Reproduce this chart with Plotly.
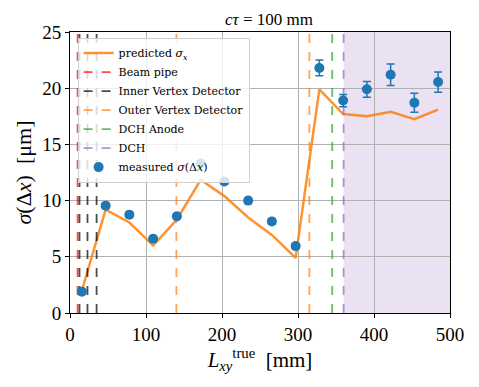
import plotly.graph_objects as go

# bin centres of L_xy^true [mm]
l_xy = [15.6, 46.9, 78.1, 109.4, 140.6, 171.9, 203.1, 234.4,
        265.6, 296.9, 328.1, 359.4, 390.6, 421.9, 453.1, 484.4]
measured = [1.9, 9.55, 8.75, 6.6, 8.6, 13.3, 11.7, 10.0,
            8.15, 5.95, 21.8, 18.9, 19.9, 21.2, 18.7, 20.55]
measured_err = [0.15, 0.2, 0.2, 0.2, 0.2, 0.2, 0.2, 0.2,
                0.2, 0.2, 0.7, 0.55, 0.7, 0.95, 0.85, 0.9]
predicted = [2.0, 9.2, 8.05, 6.0, 8.3, 11.85, 10.4, 8.5,
             6.95, 4.9, 19.9, 17.7, 17.5, 17.9, 17.25, 18.1]

# detector radii [mm]
beam_pipe = [10]
inner_vertex = [12.5, 23, 35]
outer_vertex = [140, 315]
dch_anode = [345]
dch = [360]
dch_outer = 2000

SERIF = "Liberation Serif"

fig = go.Figure()

fig.add_trace(go.Scatter(
    x=l_xy, y=predicted, mode="lines",
    line=dict(color="#ff7f0e", width=2.5),
    opacity=0.85,
    name="predicted <i>σ<sub>x</sub></i>",
))


def vlines(xs, color, name):
    xx, yy = [], []
    for v in xs:
        xx += [v, v, None]
        yy += [0, 25, None]
    fig.add_trace(go.Scatter(
        x=xx, y=yy, mode="lines",
        line=dict(color=color, width=1.8, dash="dash"),
        opacity=0.7, name=name,
    ))


vlines(beam_pipe, "red", "Beam pipe")
vlines(inner_vertex, "black", "Inner Vertex Detector")
vlines(outer_vertex, "#ff7f0e", "Outer Vertex Detector")
vlines(dch_anode, "#2ca02c", "DCH Anode")
vlines(dch, "#9467bd", "DCH")

fig.add_trace(go.Scatter(
    x=l_xy, y=measured, mode="markers",
    marker=dict(color="#1f77b4", size=10),
    error_y=dict(type="data", array=measured_err, color="#1f77b4",
                 thickness=1.5, width=4),
    name="measured <i>σ</i>(Δ<i>x</i>)",
))

# DCH volume shading
fig.add_shape(type="rect", xref="x", yref="paper",
              x0=dch[0], x1=dch_outer, y0=0, y1=1,
              fillcolor="rgba(148,103,189,0.2)", line_width=0, layer="below")

axis_common = dict(
    showline=True, linecolor="black", linewidth=1, mirror=True,
    ticks="outside", ticklen=4, tickcolor="black",
    showgrid=True, gridcolor="#b0b0b0", gridwidth=1,
    zeroline=False, automargin=False,
)

# page body adds an 8px offset, margins compensate
fig.update_layout(
    width=479, height=387,
    margin=dict(l=62, r=37, t=24, b=82),
    plot_bgcolor="white", paper_bgcolor="white",
    font=dict(family=SERIF, color="black"),
    title=dict(text="<i>cτ</i> = 100 mm", x=0.545, xanchor="center",
               y=0.972, yanchor="middle", font=dict(size=17),
               automargin=False),
    xaxis=dict(range=[0, 500], tickvals=[0, 100, 200, 300, 400, 500],
               tickfont=dict(size=19),
               title=dict(text="<i>L<sub>xy</sub></i><sup>true</sup>  [mm]",
                          font=dict(size=21), standoff=2),
               **axis_common),
    yaxis=dict(range=[0, 25], tickvals=[0, 5, 10, 15, 20, 25],
               tickfont=dict(size=19),
               title=dict(text="<i>σ</i>(Δ<i>x</i>)  [μm]",
                          font=dict(size=22), standoff=4),
               **axis_common),
    legend=dict(x=0.02, y=0.98, xanchor="left", yanchor="top",
                bgcolor="rgba(255,255,255,0.8)", bordercolor="#d0d0d0",
                borderwidth=1, font=dict(size=11, family="DejaVu Serif"),
                tracegroupgap=0, itemwidth=30),
    showlegend=True,
)

fig.write_html("out.html")
